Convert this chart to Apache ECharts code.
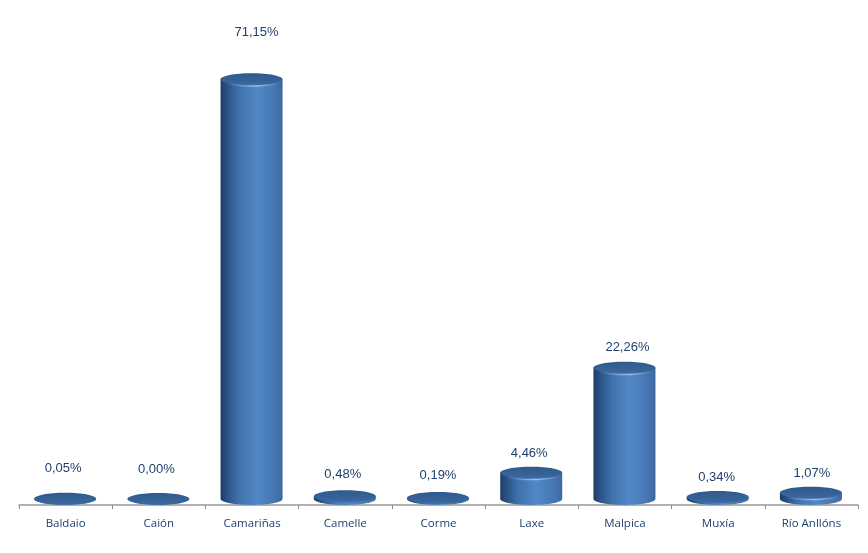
<!DOCTYPE html>
<html><head><meta charset="utf-8">
<style>html,body{margin:0;padding:0;background:#fff}#c{width:868px;height:553px}</style>
<script src="https://cdn.jsdelivr.net/npm/echarts@6/dist/echarts.min.js"></script>
</head><body><div id="c"></div>
<script>
const categories = ['Baldaio','Caión','Camariñas','Camelle','Corme','Laxe','Malpica','Muxía','Río Anllóns'];
const shares = [0.05,0.00,71.15,0.48,0.19,4.46,22.26,0.34,1.07];
const shareLabels = ['0,05%','0,00%','71,15%','0,48%','0,19%','4,46%','22,26%','0,34%','1,07%'];

const labelLift = [30,30,47,22,22,19,20,20,19];
const labelShift = [-2,-2,5,-2,0,-2,3,-1,1];
const RX = 31, RY = 6;
const bodyFill = new echarts.graphic.LinearGradient(0,0,1,0,[
  {offset:0,color:'#1f3c62'},{offset:0.1,color:'#2a5184'},{offset:0.28,color:'#3f70aa'},
  {offset:0.58,color:'#5287c6'},{offset:0.85,color:'#4778b4'},{offset:1,color:'#3d689f'}]);
const capFill = new echarts.graphic.LinearGradient(0,0,0,1,[
  {offset:0,color:'#2f5a8c'},{offset:0.75,color:'#37649a'},{offset:1,color:'#3f6fa8'}]);
const rimFill = new echarts.graphic.LinearGradient(0,0,1,0,[
  {offset:0.1,color:'rgba(150,185,225,0)'},{offset:0.58,color:'rgba(170,200,235,0.9)'},{offset:0.95,color:'rgba(150,185,225,0)'}]);

const chart = echarts.init(document.getElementById('c'),null,{renderer:'canvas'});
chart.setOption({
  animation:false,
  backgroundColor:'#fff',
  grid:{left:19,right:10,top:27,bottom:54},
  xAxis:{type:'category',data:categories,offset:6,
    axisLine:{onZero:false,lineStyle:{color:'#969696',width:1.5}},
    axisTick:{show:true,alignWithLabel:false,length:4,lineStyle:{color:'#8c8c8c'}},
    axisLabel:{interval:0,color:'#1f3f6e',fontFamily:'Open Sans',fontSize:11.5,margin:13}},
  yAxis:{type:'value',min:0,max:80,show:false},
  series:[{
    type:'custom',
    clip:false,
    data:shares.map((v,i)=>[i,v]),
    encode:{x:0,y:1},
    renderItem(params,api){
      const i = api.value(0);
      const top = api.coord([i,api.value(1)]);
      const base = api.coord([i,0]);
      const cx = top[0] - 0.5, yt = top[1], yb = base[1];
      const children = [];
      if (yb - yt > 0.1) {
        children.push({type:'path',
          shape:{pathData:`M${cx-RX} ${yt}L${cx-RX} ${yb}A${RX} ${RY} 0 0 0 ${cx+RX} ${yb}L${cx+RX} ${yt}Z`,
                 layout:'cover',x:cx-RX,y:yt,width:RX*2,height:yb-yt+RY},
          style:{fill:bodyFill}});
      }
      if (yb - yt > 3) {
        children.push({type:'ellipse',shape:{cx,cy:yt+1.5,rx:RX,ry:RY},style:{fill:rimFill}});
      }
      children.push({type:'ellipse',shape:{cx,cy:yt,rx:RX,ry:RY},style:{fill:capFill}});
      children.push({type:'text',
        style:{text:shareLabels[i],x:cx+labelShift[params.dataIndex],y:yt-labelLift[params.dataIndex],align:'center',verticalAlign:'middle',
               fill:'#1f3f6e',font:'13px "Liberation Sans"'}});
      return {type:'group',children};
    }
  }]
});
</script></body></html>
